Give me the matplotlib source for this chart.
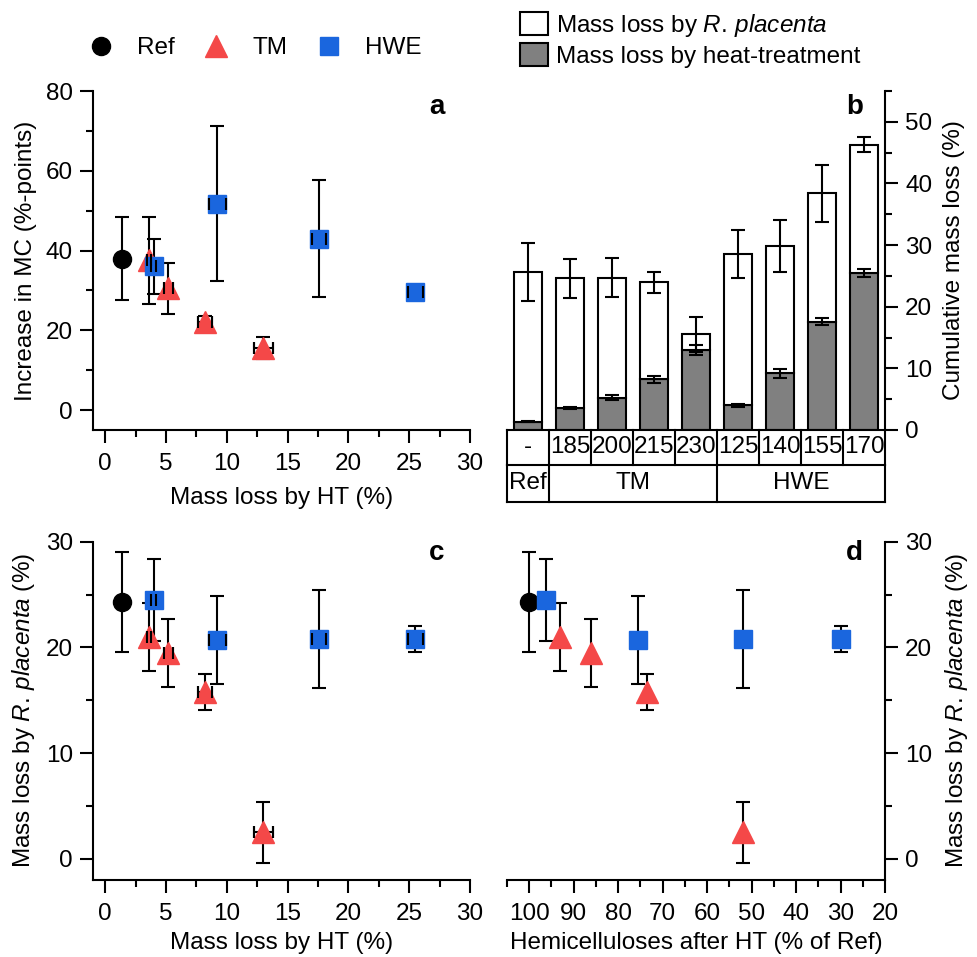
import matplotlib
matplotlib.use('Agg')
import matplotlib.pyplot as plt
from matplotlib.lines import Line2D
from matplotlib.patches import Patch
from matplotlib.ticker import MultipleLocator
import numpy as np

plt.rcParams['font.family'] = ['Liberation Sans', 'DejaVu Sans']
plt.rcParams['mathtext.fontset'] = 'custom'
plt.rcParams['mathtext.rm'] = 'Liberation Sans'
plt.rcParams['mathtext.it'] = 'Liberation Sans:italic'
plt.rcParams['font.size'] = 17.5
plt.rcParams['axes.linewidth'] = 1.5

# mass loss by heat treatment (%)
ref_ht = [1.35]
ref_ht_err = [0.1]
tm_ht = [3.6, 5.2, 8.2, 13.0]
tm_ht_err = [0.2, 0.4, 0.6, 0.8]
hwe_ht = [4.0, 9.2, 17.6, 25.5]
hwe_ht_err = [0.2, 0.7, 0.6, 0.6]

# increase in MC (%-points)
ref_mc = [38.0]
ref_mc_err = [10.3]
tm_mc = [37.5, 30.5, 22.0, 15.5]
tm_mc_err = [11.0, 6.4, 1.5, 2.7]
hwe_mc = [36.0, 51.7, 43.0, 29.6]
hwe_mc_err = [7.0, 19.4, 14.6, 1.0]

# mass loss by R. placenta (%)
ref_rp = [24.3]
ref_rp_err = [4.7]
tm_rp = [21.0, 19.5, 15.8, 2.5]
tm_rp_err = [3.2, 3.2, 1.7, 2.9]
hwe_rp = [24.5, 20.7, 20.8, 20.8]
hwe_rp_err = [3.9, 4.2, 4.6, 1.2]

# hemicelluloses after HT (% of Ref)
ref_hemi = [100.0]
tm_hemi = [93.1, 86.2, 73.5, 51.9]
hwe_hemi = [96.3, 75.5, 51.9, 29.8]

temps = ['-', '185', '200', '215', '230', '125', '140', '155', '170']
groups = ['Ref', 'TM', 'HWE']

RED = '#f44848'
BLUE = '#1a66de'
GREY = '#808080'

styles = [('o', 'k', 13), ('^', RED, 16), ('s', BLUE, 12.5)]
RP_LABEL = r'Mass loss by $\mathit{R.\,placenta}$'


def style_ticks(ax, xmaj, xmin, ymaj, ymin):
    ax.xaxis.set_major_locator(MultipleLocator(xmaj))
    ax.xaxis.set_minor_locator(MultipleLocator(xmin))
    ax.yaxis.set_major_locator(MultipleLocator(ymaj))
    ax.yaxis.set_minor_locator(MultipleLocator(ymin))
    ax.tick_params(which='major', direction='out', length=9.5, width=1.5)
    ax.tick_params(which='minor', direction='out', length=5, width=1.5)
    ax.tick_params(axis='x', which='major', pad=7)
    ax.tick_params(axis='y', which='major', pad=5)


def scatter(ax, xs, ys, yerrs, xerrs=None):
    for i, (marker, col, ms) in enumerate(styles):
        ax.errorbar(xs[i], ys[i], yerr=yerrs[i], fmt='none', ecolor='k',
                    elinewidth=1.5, capsize=5, capthick=1.5, zorder=2)
        if xerrs is not None:
            ax.errorbar(xs[i], ys[i], xerr=xerrs[i], fmt='none', ecolor='k',
                        elinewidth=1.5, capsize=4.5, capthick=1.5, zorder=2)
        ax.plot(xs[i], ys[i], ls='none', marker=marker, color=col, ms=ms,
                mec=col, zorder=3)
        if xerrs is not None:
            # caps stay visible on top of the symbols
            ax.errorbar(xs[i], ys[i], xerr=xerrs[i], fmt='none', ecolor='k',
                        elinewidth=0, capsize=4.5, capthick=1.5, zorder=4)


fig = plt.figure(figsize=(9.78, 9.57), dpi=100)
W, H = 978, 957


def add_axes(l, r, t, b):
    return fig.add_axes([l / W, 1 - b / H, (r - l) / W, (b - t) / H])


ax_a = add_axes(93, 470, 91, 430)
ax_b = add_axes(507, 885, 91, 430)
ax_c = add_axes(93, 470, 541.7, 880)
ax_d = add_axes(507, 885, 541.7, 880)

ht = [ref_ht, tm_ht, hwe_ht]
ht_err = [ref_ht_err, tm_ht_err, hwe_ht_err]
rp = [ref_rp, tm_rp, hwe_rp]
rp_err = [ref_rp_err, tm_rp_err, hwe_rp_err]

# panel a
scatter(ax_a, ht, [ref_mc, tm_mc, hwe_mc], [ref_mc_err, tm_mc_err, hwe_mc_err], ht_err)
ax_a.set_xlim(-1, 30)
ax_a.set_ylim(-5, 80)
style_ticks(ax_a, 5, 2.5, 20, 10)
ax_a.set_xlabel('Mass loss by HT (%)', labelpad=9)
ax_a.set_ylabel('Increase in MC (%-points)', labelpad=6)
ax_a.text(0.912, 0.953, 'a', transform=ax_a.transAxes, fontsize=20,
          fontweight='bold', ha='center', va='center')

# panel c
scatter(ax_c, ht, rp, rp_err, ht_err)
ax_c.set_xlim(-1, 30)
ax_c.set_ylim(-2, 30)
style_ticks(ax_c, 5, 2.5, 10, 5)
ax_c.set_xlabel('Mass loss by HT (%)', labelpad=5)
ax_c.set_ylabel(RP_LABEL + ' (%)', labelpad=6)
ax_c.text(0.912, 0.966, 'c', transform=ax_c.transAxes, fontsize=20,
          fontweight='bold', ha='center', va='center')

# panel d
scatter(ax_d, [ref_hemi, tm_hemi, hwe_hemi], rp, rp_err)
ax_d.set_xlim(105, 20)
ax_d.set_ylim(-2, 30)
style_ticks(ax_d, 10, 5, 10, 5)
ax_d.yaxis.tick_right()
ax_d.yaxis.set_label_position('right')
ax_d.spines['left'].set_visible(False)
ax_d.set_xlabel('Hemicelluloses after HT (% of Ref)', labelpad=5)
ax_d.set_ylabel(RP_LABEL + ' (%)', labelpad=8)
ax_d.text(0.92, 0.966, 'd', transform=ax_d.transAxes, fontsize=20,
          fontweight='bold', ha='center', va='center')

for ax in (ax_a, ax_c, ax_d):
    ax.spines['top'].set_visible(False)
ax_a.spines['right'].set_visible(False)
ax_c.spines['right'].set_visible(False)

# panel b: stacked bars
bar_ht = np.concatenate(ht)
bar_ht_err = np.concatenate(ht_err)
bar_rp = np.concatenate(rp)
bar_rp_err = np.concatenate(rp_err)
pos = np.arange(len(temps))

ax_b.bar(pos, bar_ht, width=0.69, color=GREY, edgecolor='k', lw=1.5, zorder=2)
ax_b.bar(pos, bar_rp, bottom=bar_ht, width=0.69, color='white',
         edgecolor='k', lw=1.5, zorder=2)
ax_b.errorbar(pos, bar_ht, yerr=bar_ht_err, fmt='none', ecolor='k',
              elinewidth=1.5, capsize=5, capthick=1.5, zorder=3)
ax_b.errorbar(pos, bar_ht + bar_rp, yerr=bar_rp_err, fmt='none', ecolor='k',
              elinewidth=1.5, capsize=5, capthick=1.5, zorder=3)
ax_b.set_xlim(-0.5, len(temps) - 0.5)
ax_b.set_ylim(0, 55)
ax_b.spines['top'].set_visible(False)
ax_b.spines['left'].set_visible(False)
ax_b.set_xticks([])
ax_b.yaxis.tick_right()
ax_b.yaxis.set_label_position('right')
ax_b.yaxis.set_major_locator(MultipleLocator(10))
ax_b.yaxis.set_minor_locator(MultipleLocator(5))
ax_b.tick_params(which='major', direction='out', length=9.5, width=1.5, pad=5)
ax_b.tick_params(which='minor', direction='out', length=5, width=1.5)
ax_b.set_ylabel('Cumulative mass loss (%)', labelpad=8)
ax_b.text(0.92, 0.953, 'b', transform=ax_b.transAxes, fontsize=20,
          fontweight='bold', ha='center', va='center')

# table under panel b
tr = ax_b.get_xaxis_transform()
r1, r2 = -0.103, -0.212
x0, x1 = -0.5, len(temps) - 0.5
kw = dict(color='k', lw=1.5, transform=tr, clip_on=False)
ax_b.plot([x0, x1], [r1, r1], **kw)
ax_b.plot([x0, x1], [r2, r2], **kw)
for i in range(len(temps) + 1):
    ax_b.plot([i - 0.5, i - 0.5], [0, r1], **kw)
for i, t in enumerate(temps):
    ax_b.text(i, r1 / 2, t, transform=tr, ha='center', va='center')
spans = [(0, 1), (1, 5), (5, 9)]
for name, (s, e) in zip(groups, spans):
    ax_b.plot([s - 0.5, s - 0.5], [r1, r2], **kw)
    ax_b.text((s + e - 1) / 2, (r1 + r2) / 2, name, transform=tr,
              ha='center', va='center')
ax_b.plot([x1, x1], [r1, r2], **kw)

# legends
sym_handles = [Line2D([], [], ls='none', marker=m, color=c, mec=c, ms=s)
               for m, c, s in styles]
fig.legend(sym_handles, groups, loc='center left', ncol=3, frameon=False,
           bbox_to_anchor=(88.5 / W, 1 - 48 / H), borderpad=0, borderaxespad=0,
           handlelength=1.0, handletextpad=1.0, columnspacing=1.2)

bar_handles = [Patch(facecolor='white', edgecolor='k', lw=1.5),
               Patch(facecolor=GREY, edgecolor='k', lw=1.5)]
fig.legend(bar_handles, [RP_LABEL, 'Mass loss by heat-treatment'],
           loc='upper left', frameon=False, bbox_to_anchor=(520 / W, 1 - 12 / H),
           borderpad=0, borderaxespad=0, handlelength=1.15, handleheight=1.05,
           handletextpad=0.33, labelspacing=0.18)

fig.savefig('out.png', dpi=100)
